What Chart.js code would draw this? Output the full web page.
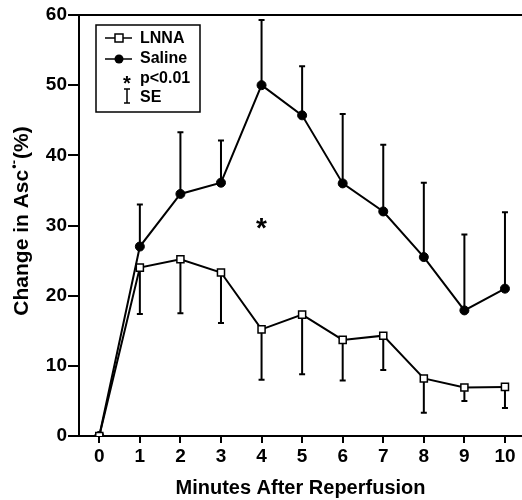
<!DOCTYPE html>
<html lang="en">
<head>
  <meta charset="UTF-8">
  <title>Change in Asc after reperfusion</title>
  <script src="https://cdn.jsdelivr.net/npm/chart.js@4.4.0/dist/chart.umd.min.js"></script>
  <style>
    body { margin: 0; background: #fff; }
    #wrap { width: 522px; height: 500px; }
  </style>
</head>
<body>
  <div id="wrap"><canvas id="ascChart" width="522" height="500"></canvas></div>
  <script>
    // data
    const minutes = [0, 1, 2, 3, 4, 5, 6, 7, 8, 9, 10];
    const lnna = [0, 24.0, 25.2, 23.3, 15.2, 17.3, 13.7, 14.3, 8.2, 6.9, 7.0];
    const lnnaLow = [0, 17.4, 17.5, 16.1, 8.0, 8.8, 7.9, 9.4, 3.3, 5.0, 4.0];   // lower end of SE bar
    const saline = [0, 27.0, 34.5, 36.1, 50.0, 45.7, 36.0, 32.0, 25.5, 17.9, 21.0];
    const salineHigh = [0, 33.0, 43.3, 42.1, 59.3, 52.7, 45.9, 41.5, 36.1, 28.7, 31.9]; // upper end of SE bar
    const yTicks = [0, 10, 20, 30, 40, 50, 60];
    const sigMark = { x: 4, y: 30.2 };

    const FONT = "'Liberation Sans', Arial, Helvetica, sans-serif";

    // error bars, drawn under the markers
    const errorBars = {
      id: 'errorBars',
      beforeDatasetsDraw(chart) {
        const ctx = chart.ctx, xs = chart.scales.x, ys = chart.scales.y;
        ctx.save();
        ctx.strokeStyle = '#000';
        ctx.lineWidth = 2;
        const bar = (m, from, to) => {
          const px = xs.getPixelForValue(m);
          const y0 = ys.getPixelForValue(from), y1 = ys.getPixelForValue(to);
          ctx.beginPath();
          ctx.moveTo(px, y0); ctx.lineTo(px, y1);
          ctx.moveTo(px - 3, y1); ctx.lineTo(px + 3, y1);
          ctx.stroke();
        };
        minutes.forEach((m, i) => {
          if (m === 0) return;
          bar(m, saline[i], salineHigh[i]);
          bar(m, lnna[i], lnnaLow[i]);
        });
        ctx.restore();
      }
    };

    // frame top line, y title, star, legend
    const extras = {
      id: 'extras',
      afterDraw(chart) {
        const ctx = chart.ctx, area = chart.chartArea;
        const xs = chart.scales.x, ys = chart.scales.y;
        ctx.save();
        ctx.strokeStyle = '#000';
        ctx.fillStyle = '#000';

        // top line
        ctx.lineWidth = 2;
        ctx.beginPath();
        ctx.moveTo(area.left, area.top);
        ctx.lineTo(chart.width, area.top);
        ctx.stroke();

        // y axis title with superscript
        ctx.save();
        ctx.translate(22, 221);
        ctx.rotate(-Math.PI / 2);
        ctx.textBaseline = 'middle';
        ctx.textAlign = 'left';
        const big = 'bold 21px ' + FONT, small = 'bold 13px ' + FONT;
        const p1 = 'Change in Asc', sup = '\u2022-', p2 = '(%)';
        ctx.font = big; const w1 = ctx.measureText(p1).width, w3 = ctx.measureText(p2).width;
        ctx.font = small; const w2 = ctx.measureText(sup).width + 2;
        let x0 = -(w1 + w2 + w3) / 2;
        ctx.font = big; ctx.fillText(p1, x0, 0);
        ctx.font = small; ctx.fillText(sup, x0 + w1 + 1, -8);
        ctx.font = big; ctx.fillText(p2, x0 + w1 + w2, 0);
        ctx.restore();

        // significance star
        ctx.font = 'bold 28px ' + FONT;
        ctx.textAlign = 'center';
        ctx.textBaseline = 'middle';
        ctx.fillText('*', xs.getPixelForValue(sigMark.x), ys.getPixelForValue(sigMark.y) + 5);

        // legend box
        ctx.lineWidth = 1.5;
        ctx.strokeRect(96, 25, 104, 87);
        ctx.font = 'bold 16px ' + FONT;
        ctx.textAlign = 'left';
        ctx.textBaseline = 'middle';
        // LNNA
        ctx.beginPath(); ctx.moveTo(105, 38); ctx.lineTo(132, 38); ctx.stroke();
        ctx.fillStyle = '#fff'; ctx.fillRect(115, 34, 8, 8);
        ctx.strokeRect(115, 34, 8, 8);
        ctx.fillStyle = '#000';
        ctx.fillText('LNNA', 140, 39);
        // Saline
        ctx.beginPath(); ctx.moveTo(105, 59); ctx.lineTo(132, 59); ctx.stroke();
        ctx.beginPath(); ctx.arc(119, 59, 4.5, 0, Math.PI * 2); ctx.fill();
        ctx.fillText('Saline', 140, 59);
        // star
        ctx.font = 'bold 20px ' + FONT;
        ctx.textAlign = 'center';
        ctx.fillText('*', 127, 84);
        ctx.font = 'bold 16px ' + FONT;
        ctx.textAlign = 'left';
        ctx.fillText('p<0.01', 140, 79);
        // SE I-beam
        ctx.lineWidth = 1.5;
        ctx.beginPath();
        ctx.moveTo(124, 89); ctx.lineTo(130, 89);
        ctx.moveTo(127, 89); ctx.lineTo(127, 103);
        ctx.moveTo(124, 103); ctx.lineTo(130, 103);
        ctx.stroke();
        ctx.fillText('SE', 140, 98);
        ctx.restore();
      }
    };

    const axisCommon = {
      grid: { drawOnChartArea: false, drawTicks: true, color: '#000', lineWidth: 2 },
      border: { display: true, color: '#000', width: 2 },
      ticks: { color: '#000', font: { family: FONT, size: 19, weight: 'bold' } }
    };

    new Chart(document.getElementById('ascChart').getContext('2d'), {
      type: 'line',
      data: {
        datasets: [
          {
            label: 'Saline',
            data: minutes.map((m, i) => ({ x: m, y: saline[i] })),
            borderColor: '#000',
            borderWidth: 2,
            pointStyle: 'circle',
            pointRadius: 4.5,
            pointBackgroundColor: '#000',
            pointBorderColor: '#000',
            pointBorderWidth: 1,
            order: 2
          },
          {
            label: 'LNNA',
            data: minutes.map((m, i) => ({ x: m, y: lnna[i] })),
            borderColor: '#000',
            borderWidth: 2,
            pointStyle: 'rect',
            pointRadius: 5,
            pointBackgroundColor: '#fff',
            pointBorderColor: '#000',
            pointBorderWidth: 1.5,
            order: 1
          }
        ]
      },
      options: {
        responsive: false,
        animation: false,
        devicePixelRatio: 1,
        layout: { autoPadding: false, padding: { top: 15, right: 0, left: 0, bottom: 0 } },
        plugins: { legend: { display: false }, tooltip: { enabled: false } },
        scales: {
          x: {
            type: 'linear',
            min: -0.5,
            max: 10.42,
            ...axisCommon,
            grid: { ...axisCommon.grid, tickLength: 7 },
            ticks: { ...axisCommon.ticks, padding: 2, maxRotation: 0 },
            afterBuildTicks: s => { s.ticks = minutes.map(v => ({ value: v })); },
            afterFit: s => { s.height = 64; },
            title: {
              display: true,
              text: 'Minutes After Reperfusion',
              color: '#000',
              font: { family: FONT, size: 20, weight: 'bold' },
              padding: { top: 6, bottom: 0 }
            }
          },
          y: {
            min: 0,
            max: 60,
            ...axisCommon,
            grid: { ...axisCommon.grid, tickLength: 11 },
            ticks: { ...axisCommon.ticks, padding: 1 },
            afterBuildTicks: s => { s.ticks = yTicks.map(v => ({ value: v })); },
            afterFit: s => { s.width = 79; }
          }
        }
      },
      plugins: [errorBars, extras]
    });
  </script>
</body>
</html>
